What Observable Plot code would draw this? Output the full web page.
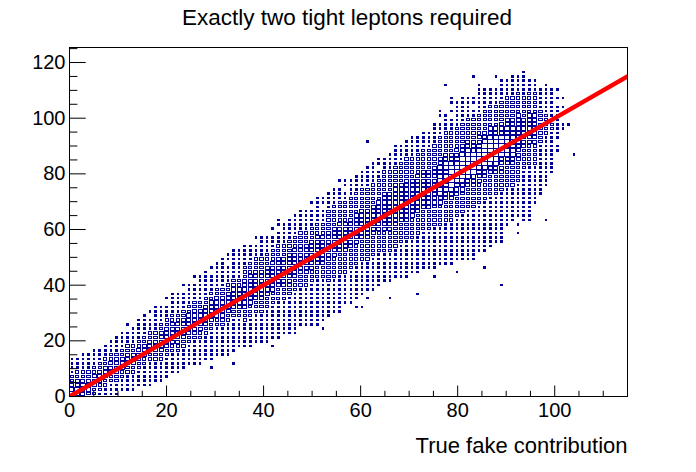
<!DOCTYPE html>
<html>
<head>
<meta charset="utf-8">
<script src="https://cdn.jsdelivr.net/npm/d3@7"></script>
<script src="https://cdn.jsdelivr.net/npm/@observablehq/plot@0.6"></script>
<style>
  html, body { margin: 0; padding: 0; background: #ffffff; }
</style>
</head>
<body>
<div id="chart"></div>
<script>
// ---- texts ----
const title = "Exactly two tight leptons required";
const xTitle = "True fake contribution";

// ---- axis ticks ----
const xMajorTicks = [0, 20, 40, 60, 80, 100];
const xMinorTicks = [5, 10, 15, 25, 30, 35, 45, 50, 55, 65, 70, 75, 85, 90, 95, 105, 110, 115];
const yMajorTicks = [0, 20, 40, 60, 80, 100, 120];
const yMinorTicks = [5, 10, 15, 25, 30, 35, 45, 50, 55, 65, 70, 75, 85, 90, 95, 105, 110, 115, 125];

// ---- 2D histogram (box draw): 100 x-bins over 0-115, 80 y-bins over 0-125 ----
// for each x-bin column: first occupied y-bin, and box-size level per y-bin ('.' = empty)
const colOffset = [
  0,0,0,0,0,0,0,0,0,0,
  1,1,1,2,2,3,3,4,4,5,
  6,6,7,7,8,8,8,9,9,10,
  10,11,11,11,12,12,13,13,14,14,
  15,15,16,16,17,17,18,19,20,21,
  21,22,23,24,24,25,26,26,27,27,
  27,28,28,28,29,29,30,30,30,30,
  31,31,31,33,33,34,35,35,39,40,
  39,40,40,44,46,48,51,56,61,62,
  55
];
const colLevels = [
  "433221111",
  "343322111",
  "3343221111",
  "2333221111",
  "22333221111",
  "12233322111",
  "112233322111",
  "1112233322111",
  "11122333221111",
  ".11122333221111",
  "11112233322111.1",
  "111122333221111",
  ".1111223332211111",
  "11111223332211111",
  "1111112233322111.1",
  "111112233322111111",
  "111112233333221111",
  "11111223333322111.1",
  ".1111122333332211111",
  "1111122333332211111",
  "111112233333221111.1",
  ".1111122333332211111",
  "1111112233333221111.1",
  "111111223333322111111",
  "111111223333322111111",
  "11111112233333221111.1",
  ".1111111223333322111111",
  "11111112233333221111111",
  "111111112233333221111.11",
  "111111112233333221111111",
  ".11111112233333221111111",
  "111111222333333322211111",
  "111111122233333332221111",
  ".11111112223333333222111.1",
  "1111111222333333322211111",
  "1111111122233333332221111",
  "111111112223333333222111.1",
  "1111111112223333333222111.11",
  "11111111222333333322211111",
  "111111111222333333322211111",
  "111111111222333333322211111",
  ".111111111222333333322211111",
  "111111111222333333322211111",
  "111111111122233333332221111.1",
  "11111111112223333333222111111",
  "11111111112223333333222111.11",
  "11111111222223333333222221111",
  "11111111222223333333222221111",
  "1111111122222333333322222111",
  "11111112222233333332222211.11",
  "11111111222223333333222221111",
  "11111111222223333333222221111",
  "11111111222223333333222221111",
  "11111112222233333332222211111",
  "111111112222233333332222211111",
  "111111112222233333332222211.11",
  "11111112222233333333322222111",
  "111111122222333333333222221111",
  "1111111222223333333332222211111",
  "1111111122222333333333222221111",
  ".1111111122222333333333222221111",
  "11111111222223333333332222211111",
  "11111111122222333333333222221111",
  ".11111111122222333333333222221111",
  "11111111122222333333333222221111",
  "1111111111222223333333332222211111",
  "111111111222223344444443322222111.11",
  "11111111112222233444444433222221111",
  "1111111111222223345555543322222111.1.11",
  ".1111111111222223345555543322222111111",
  "11111111111222223345555543322222111111",
  "11111111111122222334555554332222211111",
  "11111111111122222334555554332222211.11",
  "111111111112222233455555433222221111111",
  "11111111111122222334555554332222211111",
  "1111111111112222233455555433222221111",
  "111111111112222233455555433222221111",
  "11111111111122222334555554332222211111",
  "1111111112222233444444433222221111",
  "1111111122222334444444332222211111",
  "1.111111112222233333333333222221111",
  "1111111111112222233333332222211111",
  "111111111111122222333333322222111",
  "11111111122222333333322222111",
  "1111111111112222222211111",
  "111111111111222221111111",
  "11111111112221111111",
  "11.11111111.1.1",
  "11...1.1",
  "1",
  "1"
];
// isolated single entries (x, y values)
const outX = [61.5, 55.8, 77.6, 83.3, 87.9, 93.6, 41, 42.1, 46.6, 51, 52.4, 55.8, 59.3, 60.3, 66.2, 57.9, 61.3, 62.8, 71.7, 69.6, 75.1, 79.9, 67.2, 89.2, 85.7, 98.2, 92.5, 29.5, 34];
const outY = [90.8, 78, 112, 114.7, 114.7, 117, 20.8, 18.3, 23, 26, 24.8, 29.9, 32, 32, 34.4, 37, 35.6, 38, 37, 42.2, 43, 44.2, 43.1, 39.4, 46.7, 64, 59, 10.5, 11.8];

// ---- red reference line ----
const lineX = [0, 115];
const lineY = [0, 115];

// ---- config ----
const xDomain = [0, 115];
const yDomain = [0, 125.4];
const binW = 115 / 100;
const binH = 125 / 80;
const levelSizeX = [0, 0.46, 0.58, 0.72, 0.86, 1.0];
const levelSizeY = [0, 0.6, 0.52, 0.72, 0.86, 1.0];
const boxColor = "#000099";

const cells = [];
colLevels.forEach((s, i) => {
  for (let k = 0; k < s.length; k++) {
    const c = s[k];
    if (c === ".") continue;
    cells.push({x: (i + 0.5) * binW, y: (colOffset[i] + k + 0.5) * binH, level: +c});
  }
});
outX.forEach((x, n) => {
  cells.push({
    x: (Math.floor(x / binW) + 0.5) * binW,
    y: (Math.floor(outY[n] / binH) + 0.5) * binH,
    level: 1
  });
});
const dots = cells.filter(d => d.level === 1);
const boxes = cells.filter(d => d.level > 1);
const hx = d => binW * levelSizeX[d.level] / 2;
const hy = d => binH * levelSizeY[d.level] / 2;
const lineData = lineX.map((x, i) => ({x, y: lineY[i]}));

const chart = Plot.plot({
  width: 696,
  height: 472,
  marginLeft: 69,
  marginRight: 69,
  marginTop: 47,
  marginBottom: 76,
  style: {fontFamily: "'Liberation Sans', Arial, Helvetica, sans-serif", background: "#ffffff", color: "#000000"},
  x: {domain: xDomain, axis: null},
  y: {domain: yDomain, axis: null},
  marks: [
    Plot.rect(dots, {
      x1: d => d.x - hx(d), x2: d => d.x + hx(d),
      y1: d => d.y - hy(d), y2: d => d.y + hy(d),
      fill: boxColor, shapeRendering: "crispEdges"
    }),
    Plot.rect(boxes, {
      x1: d => d.x - hx(d), x2: d => d.x + hx(d),
      y1: d => d.y - hy(d), y2: d => d.y + hy(d),
      fill: "none", stroke: boxColor, strokeWidth: 1, shapeRendering: "crispEdges"
    }),
    Plot.line(lineData, {x: "x", y: "y", stroke: "#ff0000", strokeWidth: 4.5, clip: true}),
    Plot.frame({stroke: "#000000", strokeWidth: 1}),
    Plot.axisX(xMajorTicks, {tickSize: 10.5, dy: -10.5, tickFormat: () => "", label: null}),
    Plot.axisX(xMinorTicks, {tickSize: 5.2, dy: -5.2, tickFormat: () => "", label: null}),
    Plot.axisX(xMajorTicks, {tickSize: 0, tickPadding: 6, fontSize: 20, tickFormat: d => String(d), label: null}),
    Plot.axisY(yMajorTicks, {tickSize: 16.7, dx: 16.7, tickFormat: () => "", label: null}),
    Plot.axisY(yMinorTicks, {tickSize: 8.4, dx: 8.4, tickFormat: () => "", label: null}),
    Plot.axisY(yMajorTicks, {tickSize: 0, tickPadding: 4, fontSize: 20, tickFormat: d => String(d), label: null}),
    Plot.text([title], {text: d => d, frameAnchor: "top", dx: -1.5, dy: -38, fontSize: 22.5, fill: "#000000"}),
    Plot.text([xTitle], {text: d => d, frameAnchor: "bottom-right", textAnchor: "end", dy: 56, fontSize: 22, fill: "#000000"})
  ]
});
document.getElementById("chart").appendChild(chart);
</script>
</body>
</html>
